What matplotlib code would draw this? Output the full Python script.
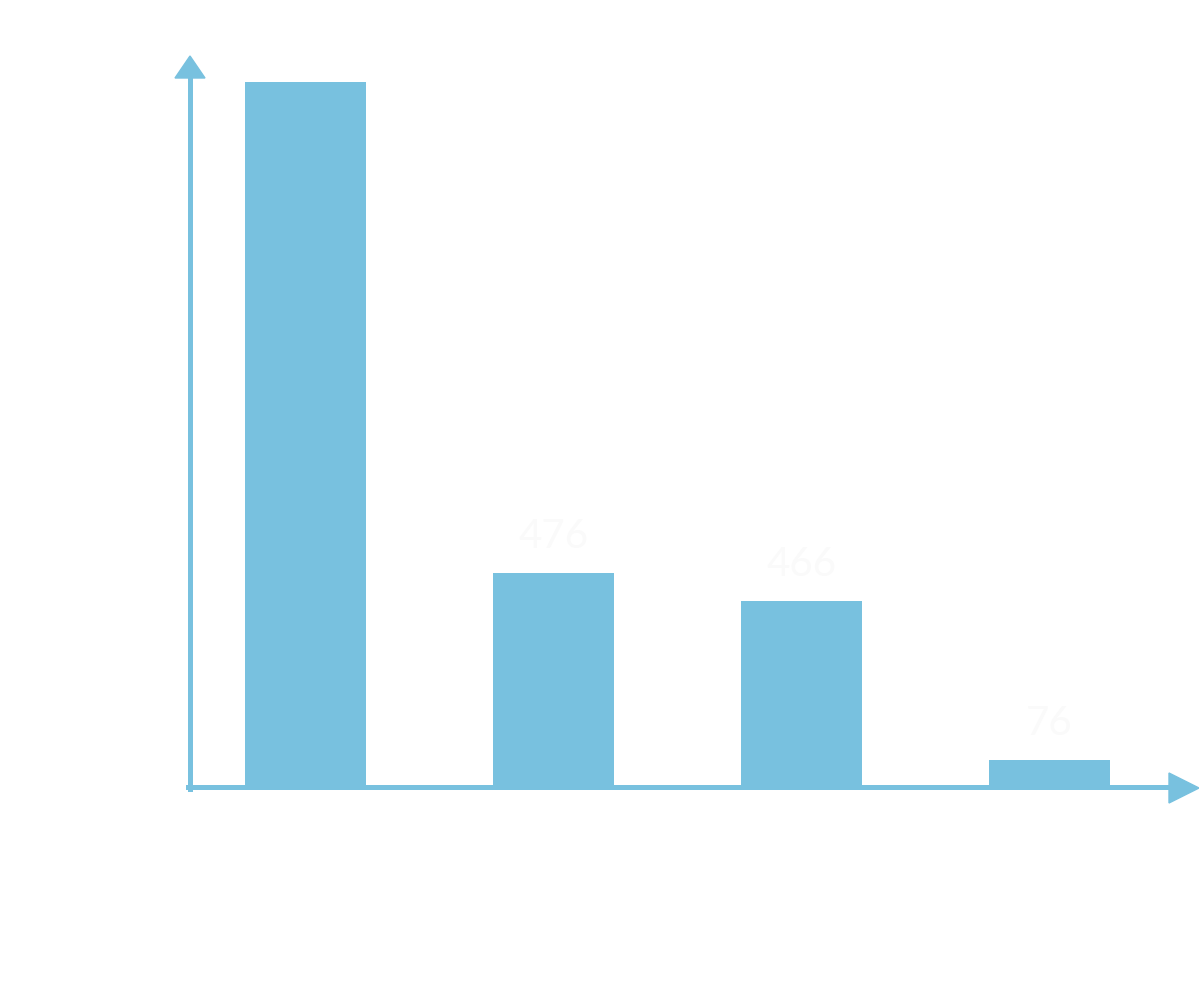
import matplotlib.pyplot as plt
from matplotlib.patches import Polygon

# bar heights as drawn (arbitrary units), value labels as printed above them
heights = [705, 214, 186, 27]
labels = ['', '476', '466', '76']

BLUE = '#78c1df'
W, H = 1199, 990

fig = plt.figure(figsize=(W / 100, H / 100), dpi=100)
fig.patch.set_facecolor('white')

# axes box: left at the y arrow, bottom at the x arrow
ax = fig.add_axes([190 / W, (H - 787) / H, (1170 - 190) / W, (787 - 78) / H])
ax.set_xlim(-0.4675, 3.4857)
ax.set_ylim(0, 709)
ax.axis('off')

x = list(range(len(heights)))
bars = ax.bar(x, heights, width=0.488, color=BLUE, zorder=2)

for b, lab in zip(bars, labels):
    ax.annotate(lab, (b.get_x() + b.get_width() / 2, b.get_height()),
                xytext=(0, 26), textcoords='offset points',
                ha='center', va='center', fontsize=29, family='Lato',
                color='#fafafa')

# axis lines with arrow heads
def fx(px):
    return px / W

def fy(py):
    return (H - py) / H

fig.add_artist(plt.Line2D([fx(190), fx(190)], [fy(789), fy(77)], color=BLUE, lw=3.6))
fig.add_artist(plt.Line2D([fx(188), fx(1171)], [fy(787), fy(787)], color=BLUE, lw=3.6))
fig.add_artist(Polygon([(fx(175), fy(78)), (fx(205), fy(78)), (fx(190), fy(56))],
                       closed=True, color=BLUE, transform=fig.transFigure))
fig.add_artist(Polygon([(fx(1169), fy(773)), (fx(1169), fy(803)), (fx(1199), fy(788))],
                       closed=True, color=BLUE, transform=fig.transFigure))

fig.savefig('out.png', dpi=100, facecolor='white')
